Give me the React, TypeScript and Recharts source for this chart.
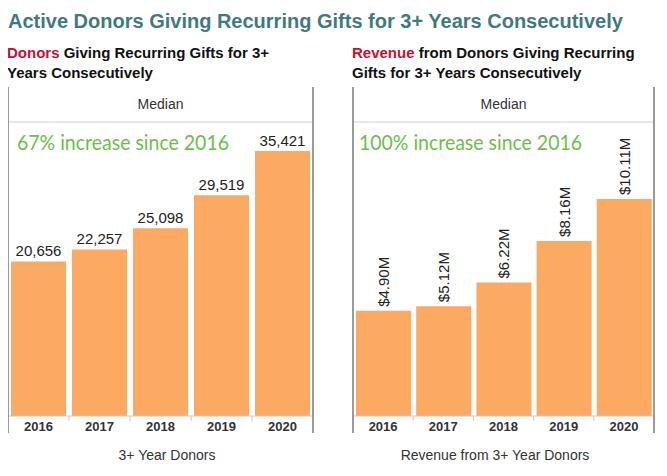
import { Bar, BarChart, LabelList, XAxis, YAxis } from 'recharts'

const YEARS = ['2016', '2017', '2018', '2019', '2020']
const DONORS = [20656, 22257, 25098, 29519, 35421]
const REVENUE = [4.9, 5.12, 6.22, 8.16, 10.11]

const TITLE = 'Active Donors Giving Recurring Gifts for 3+ Years Consecutively'
const LEFT_SUB = ['Donors', ' Giving Recurring Gifts for 3+', 'Years Consecutively']
const RIGHT_SUB = ['Revenue', ' from Donors Giving Recurring', 'Gifts for 3+ Years Consecutively']
const LEFT_NOTE = '67% increase since 2016'
const RIGHT_NOTE = '100% increase since 2016'
const LEFT_AXIS = '3+ Year Donors'
const RIGHT_AXIS = 'Revenue from 3+ Year Donors'
const HEADER = 'Median'

const W = 667
const H = 476
const ORANGE = '#fca962'
const FONT = '"Liberation Sans", Arial, sans-serif'
const PLOT_TOP = 122
const PLOT_BOTTOM = 416

// panel edges (x of the vertical borders)
const LEFT_PANEL = { x0: 8, x1: 313 }
const RIGHT_PANEL = { x0: 353, x1: 654 }

const donorData = YEARS.map((year, i) => ({ year, value: DONORS[i] }))
const revenueData = YEARS.map((year, i) => ({ year, value: REVENUE[i] }))

function makeYearTick(half: number) {
  return function YearTick(props: any) {
    const { x, y, payload, index } = props
    return (
      <g>
        {index > 0 && (
          <line x1={x - half} x2={x - half} y1={PLOT_BOTTOM} y2={PLOT_BOTTOM + 5} stroke="#c8c8c8" />
        )}
        <text
          x={x}
          y={y}
          dy={7}
          textAnchor="middle"
          fontFamily={FONT}
          fontSize={13}
          fontWeight={700}
          fill="#333"
        >
          {payload.value}
        </text>
      </g>
    )
  }
}

// rotated label sitting on top of the revenue bars
function RevenueLabel(props: any) {
  const { x, y, width, value } = props
  const cx = Number(x) + Number(width) / 2
  const ty = Number(y) - 4
  return (
    <text
      x={cx}
      y={ty}
      transform={`rotate(-90 ${cx} ${ty})`}
      textAnchor="start"
      dominantBaseline="central"
      fontFamily={FONT}
      fontSize={15}
      fill="#222"
    >
      {`$${Number(value).toFixed(2)}M`}
    </text>
  )
}

function PanelFrame({ x0, x1 }: { x0: number; x1: number }) {
  return (
    <g>
      <line x1={x0} x2={x1} y1={PLOT_TOP} y2={PLOT_TOP} stroke="#cfcfcf" />
      <line x1={x0} x2={x0} y1={87} y2={433} stroke="#7a7a7a" strokeWidth={1.5} />
      <line x1={x1} x2={x1} y1={87} y2={433} stroke="#7a7a7a" strokeWidth={1.5} />
      <text x={(x0 + x1) / 2} y={109} textAnchor="middle" fontFamily={FONT} fontSize={14} fill="#333">
        {HEADER}
      </text>
    </g>
  )
}

export default function App() {
  return (
    <div style={{ position: 'relative', width: W, height: H, margin: -8, background: '#fff' }}>
      <div style={{ position: 'absolute', left: 0, top: 0 }}>
        <BarChart
          width={W}
          height={H}
          data={donorData}
          margin={{ top: PLOT_TOP, right: W - LEFT_PANEL.x1, bottom: H - PLOT_BOTTOM - 30, left: LEFT_PANEL.x0 }}
        >
          <XAxis
            dataKey="year"
            height={30}
            interval={0}
            tickLine={false}
            axisLine={{ stroke: '#c8c8c8' }}
            tick={makeYearTick((LEFT_PANEL.x1 - LEFT_PANEL.x0) / 10)}
          />
          <YAxis hide width={0} domain={[0, 39300]} />
          <Bar dataKey="value" fill={ORANGE} barSize={55} isAnimationActive={false}>
            <LabelList
              dataKey="value"
              position="top"
              offset={5}
              formatter={(v: any) => Number(v).toLocaleString('en-US')}
              style={{ fontFamily: FONT, fontSize: 15, fill: '#222' }}
            />
          </Bar>
        </BarChart>
      </div>
      <div style={{ position: 'absolute', left: 0, top: 0 }}>
        <BarChart
          width={W}
          height={H}
          data={revenueData}
          margin={{ top: PLOT_TOP, right: W - RIGHT_PANEL.x1, bottom: H - PLOT_BOTTOM - 30, left: RIGHT_PANEL.x0 }}
        >
          <XAxis
            dataKey="year"
            height={30}
            interval={0}
            tickLine={false}
            axisLine={{ stroke: '#c8c8c8' }}
            tick={makeYearTick((RIGHT_PANEL.x1 - RIGHT_PANEL.x0) / 10)}
          />
          <YAxis hide width={0} domain={[0, 13.7]} />
          <Bar dataKey="value" fill={ORANGE} barSize={55} isAnimationActive={false}>
            <LabelList dataKey="value" content={<RevenueLabel />} />
          </Bar>
        </BarChart>
      </div>
      <svg
        width={W}
        height={H}
        style={{ position: 'absolute', left: 0, top: 0, pointerEvents: 'none' }}
      >
        <text x={8} y={28} fontFamily={FONT} fontSize={20} fontWeight={700} fill="#3f7b7e">
          {TITLE}
        </text>

        <text x={7} y={58} fontFamily={FONT} fontSize={15} fontWeight={700} fill="#111">
          <tspan fill="#c8102e">{LEFT_SUB[0]}</tspan>
          <tspan>{LEFT_SUB[1]}</tspan>
        </text>
        <text x={7} y={78} fontFamily={FONT} fontSize={15} fontWeight={700} fill="#111">
          {LEFT_SUB[2]}
        </text>
        <text x={352} y={58} fontFamily={FONT} fontSize={15} fontWeight={700} fill="#111">
          <tspan fill="#c8102e">{RIGHT_SUB[0]}</tspan>
          <tspan>{RIGHT_SUB[1]}</tspan>
        </text>
        <text x={352} y={78} fontFamily={FONT} fontSize={15} fontWeight={700} fill="#111">
          {RIGHT_SUB[2]}
        </text>

        <PanelFrame {...LEFT_PANEL} />
        <PanelFrame {...RIGHT_PANEL} />

        <text x={17} y={150} fontFamily="Lato, sans-serif" fontSize={21} fill="#6cbf4b" textLength={212} lengthAdjust="spacingAndGlyphs">
          {LEFT_NOTE}
        </text>
        <text x={359} y={150} fontFamily="Lato, sans-serif" fontSize={21} fill="#6cbf4b" textLength={223} lengthAdjust="spacingAndGlyphs">
          {RIGHT_NOTE}
        </text>

        <text x={167} y={460} textAnchor="middle" fontFamily={FONT} fontSize={14} fill="#333">
          {LEFT_AXIS}
        </text>
        <text x={495} y={460} textAnchor="middle" fontFamily={FONT} fontSize={14} fill="#333">
          {RIGHT_AXIS}
        </text>
      </svg>
    </div>
  )
}
